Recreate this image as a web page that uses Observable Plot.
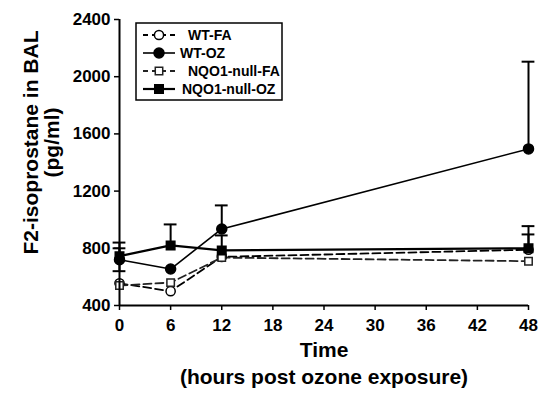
<!DOCTYPE html>
<html>
<head>
<meta charset="utf-8">
<script src="https://cdn.jsdelivr.net/npm/d3@7"></script>
<script src="https://cdn.jsdelivr.net/npm/@observablehq/plot@0.6"></script>
<style>
  html, body { margin: 0; padding: 0; background: #fff; }
  #wrap { position: relative; width: 539px; height: 394px; }
  #wrap svg text { font-family: "Liberation Sans", Arial, sans-serif; font-weight: bold; }
  #legend { position: absolute; left: 0; top: 0; }
</style>
</head>
<body>
<div id="wrap"></div>
<script>
// Data
const times = [0, 6, 12, 48];
const seriesNames = ["WT-FA", "WT-OZ", "NQO1-null-FA", "NQO1-null-OZ"];
const wtFA = [555, 500, 740, 790];
const wtOZ = [720, 655, 935, 1495];
const nullFA = [540, 560, 735, 710];
const nullOZ = [745, 820, 785, 800];
const errUpWtFA = [0, 0, 0, 107];
const errUpWtOZ = [80, 0, 165, 610];
const errDownWtOZ = [80, 0, 0, 0];
const errUpNullFA = [0, 0, 0, 0];
const errUpNullOZ = [95, 147, 105, 155];
const yTicks = [400, 800, 1200, 1600, 2000, 2400];
const xTicks = [0, 6, 12, 18, 24, 30, 36, 42, 48];

const styles = {
  "WT-FA": {symbol: "circle", fill: "white", stroke: "#000", dash: "8,4", sw: 1.8, r: 4.6},
  "WT-OZ": {symbol: "circle", fill: "#000", stroke: "#000", dash: null, sw: 1.6, r: 5},
  "NQO1-null-FA": {symbol: "square", fill: "white", stroke: "#222", dash: "8,4", sw: 1.8, r: 4.2},
  "NQO1-null-OZ": {symbol: "square", fill: "#000", stroke: "#000", dash: null, sw: 2.2, r: 4.8}
};

const vals = {"WT-FA": wtFA, "WT-OZ": wtOZ, "NQO1-null-FA": nullFA, "NQO1-null-OZ": nullOZ};
const ups = {"WT-FA": errUpWtFA, "WT-OZ": errUpWtOZ, "NQO1-null-FA": errUpNullFA, "NQO1-null-OZ": errUpNullOZ};
const downs = {"WT-OZ": errDownWtOZ};

const rows = [];
for (const s of seriesNames) {
  times.forEach((t, i) => {
    rows.push({series: s, t, v: vals[s][i], up: ups[s][i], down: (downs[s] ? downs[s][i] : 0)});
  });
}
const errRows = [];
for (const r of rows) {
  if (r.up > 0) errRows.push({series: r.series, t: r.t, y1: r.v, y2: r.v + r.up});
  if (r.down > 0) errRows.push({series: r.series, t: r.t, y1: r.v, y2: r.v - r.down});
}
const capHalf = 0.75;

const marks = [];
// lines
for (const s of seriesNames) {
  const st = styles[s];
  marks.push(Plot.line(rows.filter(d => d.series === s), {
    x: "t", y: "v", stroke: st.stroke, strokeWidth: st.sw, strokeDasharray: st.dash
  }));
}
// error bars
marks.push(Plot.ruleX(errRows, {x: "t", y1: "y1", y2: "y2", stroke: "#000", strokeWidth: 2}));
marks.push(Plot.ruleY(errRows, {y: "y2", x1: d => d.t - capHalf, x2: d => d.t + capHalf, stroke: "#000", strokeWidth: 2}));
// markers
for (const s of seriesNames) {
  const st = styles[s];
  marks.push(Plot.dot(rows.filter(d => d.series === s), {
    x: "t", y: "v", symbol: st.symbol, fill: st.fill, stroke: st.stroke, strokeWidth: 1.5, r: st.r
  }));
}
// axes
marks.push(Plot.ruleX([0], {y1: 400, y2: 2400, stroke: "#000", strokeWidth: 2}));
marks.push(Plot.ruleY([400], {x1: 0, x2: 48, stroke: "#000", strokeWidth: 2}));
marks.push(Plot.axisY({ticks: yTicks, tickFormat: d3.format("d"), tickSize: 5, tickPadding: 4, fontSize: 17, label: null, strokeWidth: 1.5}));
marks.push(Plot.axisX({ticks: xTicks, tickFormat: d3.format("d"), tickSize: 5, tickPadding: 8, fontSize: 17, label: null, strokeWidth: 1.5}));
// axis titles
marks.push(Plot.text(["F2-isoprostane in BAL"], {frameAnchor: "left", textAnchor: "middle", dx: -88, dy: -20, rotate: -90, fontSize: 21, fill: "#000"}));
marks.push(Plot.text(["(pg/ml)"], {frameAnchor: "left", textAnchor: "middle", dx: -67, dy: -20, rotate: -90, fontSize: 21, fill: "#000"}));
marks.push(Plot.text(["Time"], {frameAnchor: "bottom", dy: 51, fontSize: 21, fill: "#000"}));
marks.push(Plot.text(["(hours post ozone exposure)"], {frameAnchor: "bottom", dy: 78, fontSize: 21, fill: "#000"}));

const chart = Plot.plot({
  width: 539,
  height: 394,
  marginLeft: 119,
  marginRight: 11,
  marginTop: 19,
  marginBottom: 89,
  x: {domain: [0, 48]},
  y: {domain: [400, 2400]},
  style: {background: "#fff", color: "#000", fontFamily: "Liberation Sans, Arial, sans-serif", fontWeight: "bold", overflow: "visible"},
  marks
});
document.getElementById("wrap").appendChild(chart);

// legend overlay
const leg = d3.select("#wrap").append("svg").attr("id", "legend").attr("width", 539).attr("height", 394);
leg.append("rect").attr("x", 136).attr("y", 23).attr("width", 146).attr("height", 77)
  .attr("fill", "white").attr("stroke", "#000").attr("stroke-width", 1.5);
const legY = [35, 53, 71, 89];
const legTextX = [188, 180, 188, 182];
seriesNames.forEach((s, i) => {
  const st = styles[s];
  const g = leg.append("g");
  g.append("line").attr("x1", 143).attr("x2", 175).attr("y1", legY[i]).attr("y2", legY[i])
    .attr("stroke", st.stroke).attr("stroke-width", st.sw).attr("stroke-dasharray", st.dash ? "5,4" : null);
  const sym = d3.symbol(st.symbol === "circle" ? d3.symbolCircle : d3.symbolSquare, Math.PI * st.r * st.r)();
  g.append("path").attr("d", sym).attr("transform", `translate(159,${legY[i]})`)
    .attr("fill", st.fill).attr("stroke", st.stroke).attr("stroke-width", 1.5);
  g.append("text").attr("x", legTextX[i]).attr("y", legY[i]).attr("dy", "0.35em")
    .attr("font-size", 14).attr("fill", "#000").text(s);
});
</script>
</body>
</html>
